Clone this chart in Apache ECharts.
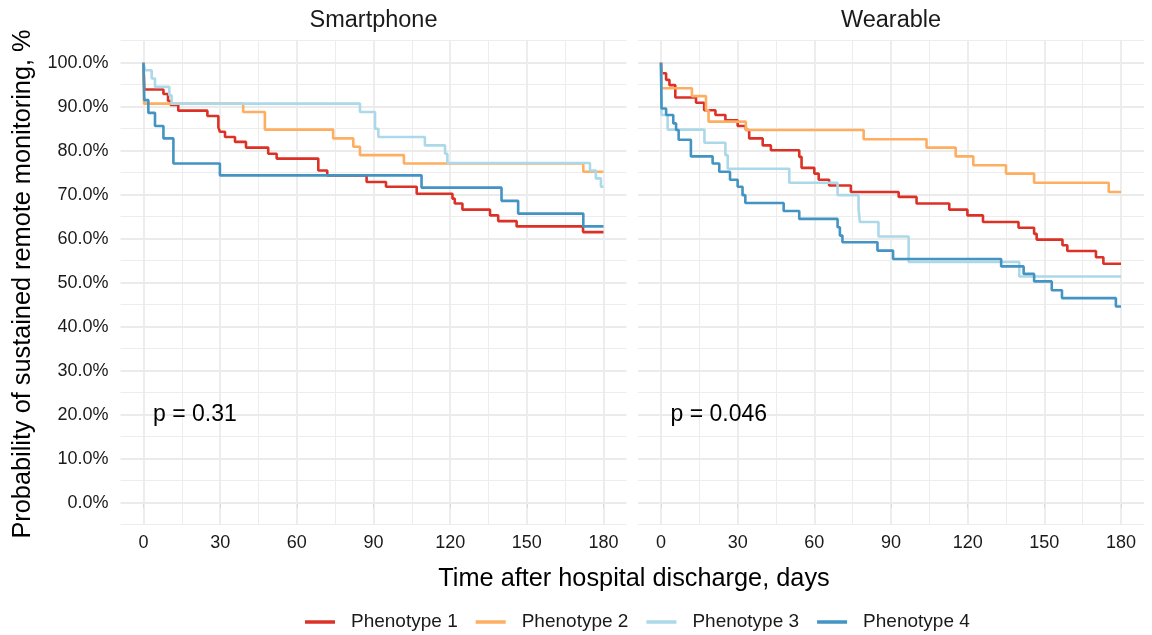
<!DOCTYPE html>
<html>
<head>
<meta charset="utf-8">
<script src="https://cdn.jsdelivr.net/npm/echarts@6/dist/echarts.min.js"></script>
<style>
html, body { margin: 0; padding: 0; background: #fff; }
#chart { width: 1152px; height: 635px; }
</style>
</head>
<body>
<div id="chart"></div>
<script>
// panels and groups
const panels = ['Smartphone', 'Wearable'];
const phenotypes = ['Phenotype 1', 'Phenotype 2', 'Phenotype 3', 'Phenotype 4'];
const colors = ['#DC3126', '#FDAE61', '#ABD9E9', '#4393C3'];
const pValues = ['p = 0.31', 'p = 0.046'];

// axis ticks / gridlines
const xMajor = [0, 30, 60, 90, 120, 150, 180];
const xMinor = [15, 45, 75, 105, 135, 165];
const yMajor = [0, 10, 20, 30, 40, 50, 60, 70, 80, 90, 100];
const yMinor = [-5, 5, 15, 25, 35, 45, 55, 65, 75, 85, 95, 105];

// Kaplan-Meier steps: [day, survival %], value holds from that day on
const smartP1 = [[0,100],[0.3,93.9],[7.8,92.9],[9.6,91.3],[10.6,90.4],[13.6,89.1],[25,87.9],[29.3,85.3],[29.9,84.3],[31.9,83.1],[35.8,82.0],[40.1,80.7],[48.8,79.3],[52.1,78.2],[68.4,75.5],[71.9,74.4],[87.3,72.9],[94.9,71.8],[106.9,70.2],[120.9,69.1],[121.8,68.0],[124.8,66.6],[135.6,65.3],[138.8,64.0],[146,62.8],[172,61.5],[180,61.5]];
const smartP2 = [[0,100],[0.2,90.7],[39,88.8],[47.5,84.8],[74.2,82.8],[82.1,80.9],[84.7,79.0],[101.9,77.1],[172.1,75.2],[180,75.2]];
const smartP3 = [[0,100],[0.6,98.3],[3.2,96.4],[4.5,94.5],[10.1,92.6],[11,90.7],[84.7,88.8],[90.6,85.0],[91.9,83.1],[110.1,81.2],[118,79.3],[118.9,77.2],[174.7,75.5],[177,73.7],[179,71.8],[180,71.8]];
const smartP4 = [[0,100],[0.3,91.5],[1.9,88.6],[4.5,85.6],[7.8,82.8],[11.7,77.1],[29.9,74.4],[108.8,71.6],[140.1,68.6],[146.6,65.7],[172.1,62.8],[180,62.8]];

const wearP1 = [[0,100],[0.3,97.6],[2,96.1],[3.3,94.9],[5.6,92.1],[13.7,90.9],[16.9,89.2],[21.3,88.1],[25.2,86.9],[30,85.6],[33.2,84.7],[34.5,82.8],[39.8,81.2],[43,80.1],[54.1,78.6],[55,76.1],[60,74.8],[61.7,73.4],[65.8,72.1],[74.3,70.6],[93,69.5],[100,68.0],[112.8,66.6],[119.9,65.3],[126,63.8],[139.9,62.5],[146,61.1],[147,59.8],[157.1,58.5],[159,57.2],[170.2,55.8],[173.1,54.3],[180,54.3]];
const wearP2 = [[0,100],[0.2,94.2],[12.1,92.4],[17.6,89.2],[18.6,86.6],[33.2,84.7],[79.3,82.6],[103.9,80.7],[115.3,78.7],[122.2,76.7],[135,74.8],[146,72.7],[175.2,70.6],[180,70.6]];
const wearP3 = [[0,100],[0.2,88.1],[2.6,84.8],[17,81.8],[25.2,79.0],[26.1,75.9],[50.2,72.7],[69.1,69.9],[77.3,66.8],[77.8,63.8],[85.1,60.5],[96.9,54.7],[140.2,51.4],[180,51.4]];
const wearP4 = [[0,100],[0.2,89.6],[2,88.1],[4.8,86.2],[5.9,84.7],[6.9,82.5],[11.7,78.7],[20.2,77.1],[22.8,75.2],[27,73.4],[30,71.8],[31.9,69.9],[33,68.1],[48,66.3],[54.1,64.5],[69.1,62.6],[70,60.7],[71,59.2],[84.7,57.3],[90.8,55.4],[133.1,53.7],[141.9,52.0],[146,50.3],[152.9,48.3],[156.9,46.5],[178,44.6],[180,44.6]];

const curves = [[smartP1, smartP2, smartP3, smartP4], [wearP1, wearP2, wearP3, wearP4]];

const font = 'Liberation Sans, Arial, sans-serif';
const gridLeft = [120.5, 638];
const gridTop = 40.7, gridW = 506, gridH = 484;

let myChart = echarts.init(document.getElementById('chart'));

let grids = [], xAxes = [], yAxes = [], series = [], graphics = [];

panels.forEach((name, i) => {
  grids.push({ left: gridLeft[i], top: gridTop, width: gridW, height: gridH });

  xAxes.push({
    type: 'value', gridIndex: i, min: -9, max: 189,
    axisLine: { show: false },
    axisTick: { show: true, customValues: xMajor, length: 5, lineStyle: { color: '#333', width: 1 } },
    axisLabel: { customValues: xMajor, margin: 9, color: '#1a1a1a', fontSize: 18, fontFamily: font },
    splitLine: { show: false }
  });

  yAxes.push({
    type: 'value', gridIndex: i, min: -5, max: 105,
    axisLine: { show: false },
    axisTick: { show: i === 0, customValues: yMajor, length: 5, lineStyle: { color: '#333', width: 1 } },
    axisLabel: {
      show: i === 0, customValues: yMajor, margin: 12, color: '#1a1a1a', fontSize: 18, fontFamily: font,
      formatter: v => v.toFixed(1) + '%'
    },
    splitLine: { show: false }
  });

  // gridlines drawn with markLine on an empty series
  let lines = [];
  xMinor.forEach(v => lines.push({ xAxis: v, lineStyle: { width: 1, color: '#EDEDED', type: 'solid' } }));
  yMinor.forEach(v => lines.push({ yAxis: v, lineStyle: { width: 1, color: '#EDEDED', type: 'solid' } }));
  xMajor.forEach(v => lines.push({ xAxis: v, lineStyle: { width: 1.8, color: '#EBEBEB', type: 'solid' } }));
  yMajor.forEach(v => lines.push({ yAxis: v, lineStyle: { width: 1.8, color: '#EBEBEB', type: 'solid' } }));
  series.push({
    type: 'line', xAxisIndex: i, yAxisIndex: i, data: [], z: 1, silent: true,
    markLine: {
      silent: true, symbol: 'none', z: 1, label: { show: false }, animation: false,
      lineStyle: { type: 'solid' }, emphasis: { disabled: true }, data: lines
    }
  });

  curves[i].forEach((d, k) => {
    series.push({
      name: phenotypes[k], type: 'line', step: 'end', xAxisIndex: i, yAxisIndex: i,
      data: d, showSymbol: false, symbol: 'none', z: 3,
      lineStyle: { width: 2.6, color: colors[k] }, itemStyle: { color: colors[k] }
    });
  });

  // strip title
  graphics.push({
    type: 'text', x: gridLeft[i] + gridW / 2, y: 21, z: 10,
    style: { text: name, fontSize: 23.5, fontFamily: font, fill: '#1a1a1a', textAlign: 'center', textVerticalAlign: 'middle' }
  });
  // p value
  graphics.push({
    type: 'text', x: gridLeft[i] + 32.5, y: 415, z: 10,
    style: { text: pValues[i], fontSize: 23, fontFamily: font, fill: '#000', textAlign: 'left', textVerticalAlign: 'middle' }
  });
});

graphics.push({
  type: 'text', x: 634, y: 579, z: 10,
  style: { text: 'Time after hospital discharge, days', fontSize: 25.3, fontFamily: font, fill: '#000', textAlign: 'center', textVerticalAlign: 'middle' }
});
graphics.push({
  type: 'text', x: 23, y: 284, rotation: Math.PI / 2, z: 10,
  style: { text: 'Probability of sustained remote monitoring, %', fontSize: 25.3, fontFamily: font, fill: '#000', textAlign: 'center', textVerticalAlign: 'middle' }
});

let option = {
  backgroundColor: '#fff',
  animation: false,
  grid: grids,
  xAxis: xAxes,
  yAxis: yAxes,
  legend: {
    data: phenotypes, left: 305, top: 610, padding: 0, icon: 'rect', itemWidth: 30, itemHeight: 3.5, itemGap: 18,
    textStyle: { fontSize: 19, fontFamily: font, color: '#1a1a1a', padding: [0, 0, 0, 11], lineHeight: 24 }
  },
  graphic: graphics,
  series: series
};

myChart.setOption(option);
</script>
</body>
</html>
